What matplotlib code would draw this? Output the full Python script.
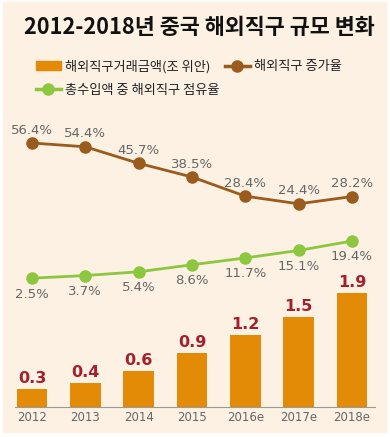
import matplotlib.pyplot as plt
import matplotlib.patches as mpatches
from matplotlib.lines import Line2D

plt.rcParams['font.family'] = ['Noto Sans CJK KR', 'DejaVu Sans']

years = ['2012', '2013', '2014', '2015', '2016e', '2017e', '2018e']
amount = [0.3, 0.4, 0.6, 0.9, 1.2, 1.5, 1.9]
growth = [56.4, 54.4, 45.7, 38.5, 28.4, 24.4, 28.2]
share = [2.5, 3.7, 5.4, 8.6, 11.7, 15.1, 19.4]

title = '2012-2018년 중국 해외직구 규모 변화'
lab_bar = '해외직구거래금액(조 위안)'
lab_growth = '해외직구 증가율'
lab_share = '총수입액 중 해외직구 점유율'

bg = '#FCF1E3'
c_bar = '#E38A06'
c_brown = '#9A5B1C'
c_green = '#8DC63F'
c_num = '#A3202C'
c_txt = '#666666'

W, H = 390, 437
fig = plt.figure(figsize=(W / 100, H / 100), dpi=100, facecolor='white')
fig.patches.append(mpatches.Rectangle((3 / W, (H - 432) / H), 383 / W, 430 / H,
                                      transform=fig.transFigure, color=bg, zorder=-10))

# axes in pixel coordinates
left, right, bot, top = 15, 375, 407, 130
rect = [left / W, (H - bot) / H, (right - left) / W, (bot - top) / H]
ax = fig.add_axes(rect)
ax.patch.set_alpha(0)
x = list(range(len(years)))
pxu = 53.33
ax.set_xlim((left - 32) / pxu, (right - 32) / pxu)
ax.set_ylim(0, (bot - top) / 60)
ax.bar(x, amount, width=0.58, color=c_bar, zorder=2)
for xi, v in zip(x, amount):
    ax.text(xi, v + 0.05, '%.1f' % v, ha='center', va='bottom', color=c_num,
            fontsize=11.5, fontweight='bold', family='DejaVu Sans')
for s in ['top', 'right', 'left']:
    ax.spines[s].set_visible(False)
ax.spines['bottom'].set_color('#9a9a9a')
ax.set_yticks([])
ax.set_xticks(x)
ax.set_xticklabels(years, family='DejaVu Sans', fontsize=8.5, color=c_txt)
ax.tick_params(axis='x', length=0, pad=3)

ax2 = ax.twinx()
ax2.set_ylim(56.4 - (bot - 143) / 1.9, 56.4 + (143 - top) / 1.9)
ax2.plot(x, growth, color=c_brown, lw=2, marker='o', ms=8, zorder=3)
for xi, v in zip(x, growth):
    ax2.text(xi, v + 3.4, '%.1f%%' % v, ha='center', va='bottom', color=c_txt,
             fontsize=9.5, family='DejaVu Sans')
ax2.axis('off')

ax3 = ax.twinx()
ax3.set_ylim(19.4 - (bot - 241) / 2.2, 19.4 + (241 - top) / 2.2)
ax3.plot(x, share, color=c_green, lw=2, marker='o', ms=8, zorder=3)
for xi, v in zip(x, share):
    ax3.text(xi, v - 4.3, '%.1f%%' % v, ha='center', va='top', color=c_txt,
             fontsize=9.5, family='DejaVu Sans')
ax3.axis('off')

fig.text(199 / W, 1 - 28 / H, title, ha='center', va='center',
         fontsize=15.7, fontweight='bold', color='#111111')

handles = [mpatches.Patch(color=c_bar),
           Line2D([], [], color=c_green, lw=2.5, marker='o', ms=8),
           Line2D([], [], color=c_brown, lw=2.5, marker='o', ms=8)]
fig.legend(handles, [lab_bar, lab_share, lab_growth], ncol=2, frameon=False,
           loc='upper left', bbox_to_anchor=(24 / W, 1 - 48 / H),
           fontsize=9.5, handlelength=1.9, handletextpad=0.3,
           columnspacing=0.4, labelspacing=0.8, labelcolor='#222222')

fig.savefig('out.png', dpi=100, facecolor='white')
